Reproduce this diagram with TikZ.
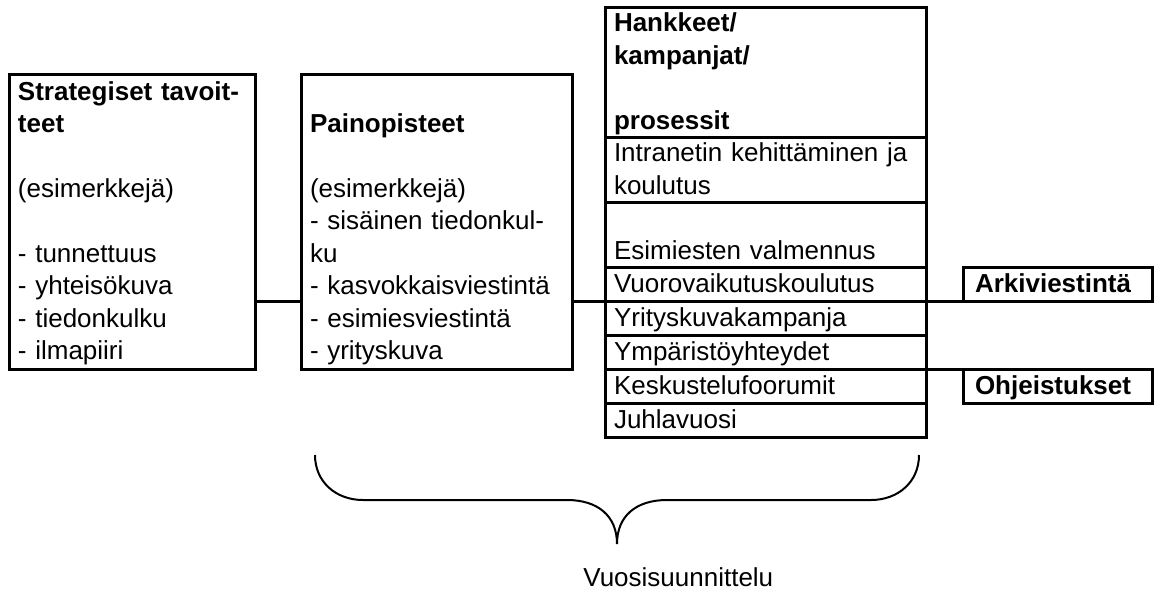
\documentclass[tikz,border=0pt]{standalone}
\usepackage{fontspec}
\setmainfont{Liberation Sans}
\usepackage{tikz}
\usetikzlibrary{positioning}
\newcommand{\ls}{\rule[-3.9pt]{0pt}{16.2pt}}
\tikzset{
  colbox/.style={rectangle, draw=black, line width=1.5pt, outer sep=0pt,
    inner xsep=4.5pt, inner ysep=0pt, align=left,
    font=\fontsize{13pt}{16.2pt}\selectfont},
  cell/.style={colbox, text width=151.5pt, minimum height=17pt},
  tagbox/.style={colbox, inner xsep=6pt, text width=82.5pt, minimum height=17pt,
    font=\fontsize{13pt}{16.2pt}\selectfont\bfseries},
  line/.style={line width=1.5pt, color=black},
  bracket/.style={line width=1pt, color=black}
}

\begin{document}
\begin{tikzpicture}[x=0.5pt, y=-0.5pt]
  \useasboundingbox (0,0) rectangle (1157,590);
  \node[colbox, anchor=north west, text width=114pt, minimum height=147.5pt] (strat) at (9,74)
    {\textbf{Strategiset tavoit-}\ls\\ \textbf{teet}\ls\\ \ls\\ (esimerkkejä)\ls\\ \ls\\
     - tunnettuus\ls\\ - yhteisökuva\ls\\ - tiedonkulku\ls\\ - ilmapiiri\ls};
  \node[colbox, right=23pt of strat, text width=126.5pt, minimum height=147.5pt] (paino)
    {\ls\\ \textbf{Painopisteet}\ls\\ \ls\\ (esimerkkejä)\ls\\ - sisäinen tiedonkul-\ls\\
     ku\ls\\ - kasvokkaisviestintä\ls\\ - esimiesviestintä\ls\\ - yrityskuva\ls};
  % hankkeet column
  \node[cell, anchor=north west, minimum height=65pt] (hdr) at (605,7)
    {\textbf{Hankkeet/}\ls\\ \textbf{kampanjat/}\ls\\ \ls\\ \textbf{prosessit}\ls};
  \node[cell, below=0pt of hdr, minimum height=32.5pt] (intra) {Intranetin kehittäminen ja\ls\\ koulutus\ls};
  \node[cell, below=0pt of intra, minimum height=32.5pt] (esim) {\ls\\ Esimiesten valmennus\ls};
  \node[cell, below=0pt of esim] (vuoro) {Vuorovaikutuskoulutus\ls};
  \node[cell, below=0pt of vuoro] (yrit) {Yrityskuvakampanja\ls};
  \node[cell, below=0pt of yrit] (ymp) {Ympäristöyhteydet\ls};
  \node[cell, below=0pt of ymp] (kesk) {Keskustelufoorumit\ls};
  \node[cell, below=0pt of kesk] (juhla) {Juhlavuosi\ls};
  \node[tagbox, right=18.5pt of vuoro] (arki) {Arkiviestintä\ls};
  \node[tagbox, right=18.5pt of kesk] (ohje) {Ohjeistukset\ls};
  \draw[line] (strat.east |- vuoro.south) -- (paino.west |- vuoro.south);
  \draw[line] (paino.east |- vuoro.south) -- (vuoro.south west);
  \draw[line] (vuoro.south east) -- (arki.south west);
  \draw[line] (ymp.south east) -- (ohje.north west);
  % brace
  \coordinate (bl) at (315,455);
  \coordinate (tip) at (617,544);
  \coordinate (br) at (919,455);
  \draw[bracket] (bl) .. controls (315,482) and (336,500) .. (363,500) -- (567,500)
    .. controls (598,500) and (617,516) .. (tip)
    .. controls (617,516) and (636,500) .. (667,500) -- (871,500)
    .. controls (898,500) and (919,482) .. (br);
  \node[font=\fontsize{13pt}{16.2pt}\selectfont, anchor=base west, inner sep=0pt] (vuosi) at (583,586) {Vuosisuunnittelu};
\end{tikzpicture}
\end{document}
